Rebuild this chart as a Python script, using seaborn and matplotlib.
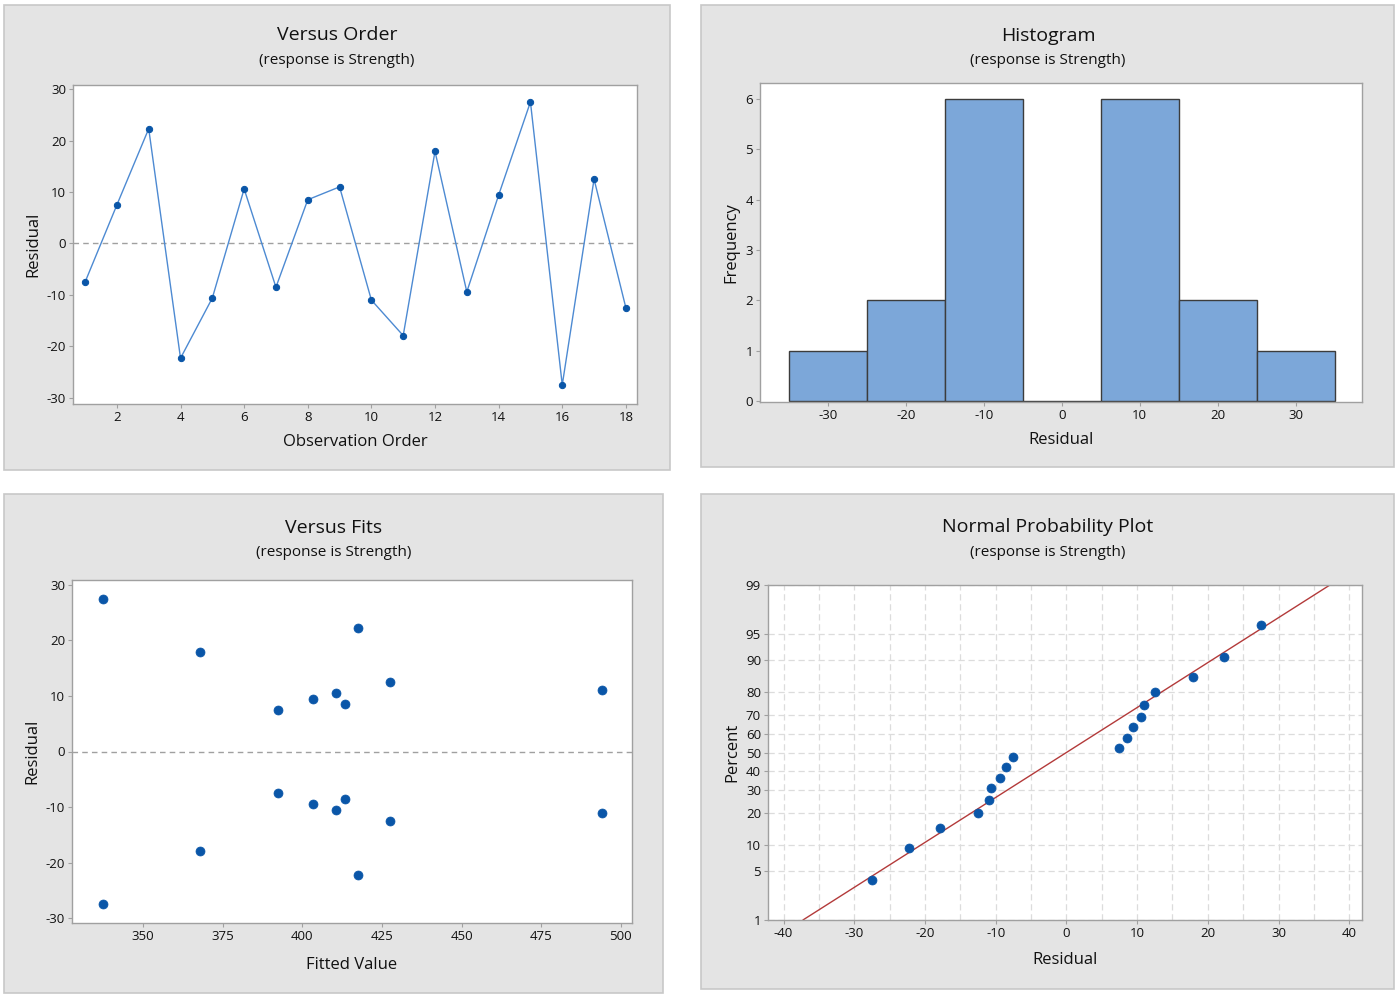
from statistics import NormalDist

import matplotlib.pyplot as plt
import numpy as np
import pandas as pd
import seaborn as sns
from matplotlib.patches import Rectangle

sns.set_theme(style="ticks")
plt.rcParams["font.family"] = ["Open Sans", "DejaVu Sans"]
plt.rcParams["axes.unicode_minus"] = False
plt.rcParams["text.color"] = "#111111"
plt.rcParams["axes.labelcolor"] = "#111111"
plt.rcParams["xtick.labelcolor"] = "#111111"
plt.rcParams["ytick.labelcolor"] = "#111111"

# Residuals from the fit, in observation order
order = list(range(1, 19))
residuals = [-7.5, 7.5, 22.3, -22.3, -10.6, 10.6, -8.5, 8.5, 11.0,
             -11.0, -17.9, 17.9, -9.4, 9.4, 27.5, -27.5, 12.5, -12.5]
fitted = [392.5, 392.5, 417.5, 417.5, 410.5, 410.5, 413.5, 413.5, 494.0,
          494.0, 368.0, 368.0, 403.5, 403.5, 337.5, 337.5, 427.5, 427.5]

hist_edges = [-35, -25, -15, -5, 5, 15, 25, 35]
prob_ticks = [1, 5, 10, 20, 30, 40, 50, 60, 70, 80, 90, 95, 99]

df = pd.DataFrame({"order": order, "resid": residuals, "fit": fitted})

W, H = 1400, 994
fig = plt.figure(figsize=(W / 100, H / 100), dpi=100)

PANEL_BG = "#e4e4e4"
PANEL_EDGE = "#c8c8c8"
DOT = "#0a56a8"
SPINE = "#a0a0a0"


def panel(l, t, r, b):
    fig.patches.append(
        Rectangle((l / W, 1 - b / H), (r - l) / W, (b - t) / H,
                  transform=fig.transFigure, facecolor=PANEL_BG,
                  edgecolor=PANEL_EDGE, linewidth=1.2, zorder=-5)
    )


def px_axes(l, t, r, b):
    ax = fig.add_axes([l / W, 1 - b / H, (r - l) / W, (b - t) / H])
    ax.set_facecolor("white")
    for s in ax.spines.values():
        s.set_color(SPINE)
        s.set_linewidth(1)
    ax.tick_params(direction="out", length=3, width=0.8, color=SPINE,
                   labelsize=9.5, pad=2)
    return ax


def titles(cx, y, title):
    fig.text(cx / W, 1 - y / H, title, ha="center", va="center", fontsize=14)
    fig.text(cx / W, 1 - (y + 25) / H, "(response is Strength)",
             ha="center", va="center", fontsize=11)


# gray panel frames
panel(4, 5, 670, 470)
panel(701, 5, 1394, 467)
panel(4, 494, 663, 993)
panel(701, 494, 1394, 989)

# -------------------------------------------------------------------
# Versus Order
# -------------------------------------------------------------------
ax1 = px_axes(73, 85, 637, 404)
ax1.axhline(0, color=SPINE, linestyle=(0, (4, 3)), linewidth=1)
sns.lineplot(data=df, x="order", y="resid", ax=ax1, color="#4d8ad2",
             linewidth=1, marker="o", markersize=4.5,
             markerfacecolor=DOT, markeredgecolor=DOT)
ax1.set_xlim(0.62, 18.35)
ax1.set_ylim(-31.2, 30.8)
ax1.set_xticks(range(2, 19, 2))
ax1.set_yticks(range(-30, 31, 10))
ax1.set_xlabel("Observation Order", fontsize=12, labelpad=7)
ax1.set_ylabel("Residual", fontsize=12)
titles(337, 35, "Versus Order")

# -------------------------------------------------------------------
# Histogram
# -------------------------------------------------------------------
ax2 = px_axes(760, 83, 1362, 402)
sns.histplot(data=df, x="resid", bins=hist_edges, ax=ax2,
             color="#7ca7d9", edgecolor="#3c3c3c", linewidth=1, alpha=1)
ax2.set_xlim(-38.7, 38.5)
ax2.set_ylim(-0.02, 6.32)
ax2.set_xticks(range(-30, 31, 10))
ax2.set_yticks(range(0, 7))
ax2.set_xlabel("Residual", fontsize=12, labelpad=7)
ax2.set_ylabel("Frequency", fontsize=12)
titles(1048, 36, "Histogram")

# -------------------------------------------------------------------
# Versus Fits
# -------------------------------------------------------------------
ax3 = px_axes(72, 580, 632, 923)
ax3.axhline(0, color=SPINE, linestyle=(0, (4, 3)), linewidth=1)
sns.scatterplot(data=df, x="fit", y="resid", ax=ax3, color=DOT, s=42,
                edgecolor=DOT, linewidth=0.5, zorder=3)
ax3.set_xlim(327.7, 503.5)
ax3.set_ylim(-30.9, 30.9)
ax3.set_xticks(range(350, 501, 25))
ax3.set_yticks(range(-30, 31, 10))
ax3.set_xlabel("Fitted Value", fontsize=12, labelpad=10)
ax3.set_ylabel("Residual", fontsize=12)
titles(334, 528, "Versus Fits")

# -------------------------------------------------------------------
# Normal Probability Plot
# -------------------------------------------------------------------
nd = NormalDist()
n = len(residuals)
sorted_res = np.sort(residuals)
pct = [(i - 0.3) / (n + 0.4) for i in range(1, n + 1)]
npp = pd.DataFrame({"resid": sorted_res, "z": [nd.inv_cdf(p) for p in pct]})

mu = np.mean(residuals)
sd = np.std(residuals, ddof=1)
z_lo, z_hi = nd.inv_cdf(0.01), nd.inv_cdf(0.99)
fit_line = pd.DataFrame({"x": [mu + sd * z_lo, mu + sd * z_hi],
                         "z": [z_lo, z_hi]})

ax4 = px_axes(768, 585, 1362, 920)
for gx in range(-40, 41, 5):
    ax4.axvline(gx, color="#dcdcdc", linestyle=(0, (5, 3)), linewidth=0.9,
                zorder=0)
for p in prob_ticks:
    ax4.axhline(nd.inv_cdf(p / 100), color="#dcdcdc",
                linestyle=(0, (5, 3)), linewidth=0.9, zorder=0)
sns.lineplot(data=fit_line, x="x", y="z", ax=ax4, color="#b33a3a",
             linewidth=1)
sns.scatterplot(data=npp, x="resid", y="z", ax=ax4, color=DOT, s=42,
                edgecolor=DOT, linewidth=0.5, zorder=3)
ax4.set_xlim(-42.2, 41.8)
ax4.set_ylim(z_lo, z_hi)
ax4.set_xticks(range(-40, 41, 10))
ax4.set_yticks([nd.inv_cdf(p / 100) for p in prob_ticks])
ax4.set_yticklabels([str(p) for p in prob_ticks])
ax4.set_xlabel("Residual", fontsize=12, labelpad=9)
ax4.set_ylabel("Percent", fontsize=12)
titles(1048, 527, "Normal Probability Plot")

plt.savefig("out.png", dpi=100)
plt.close()
